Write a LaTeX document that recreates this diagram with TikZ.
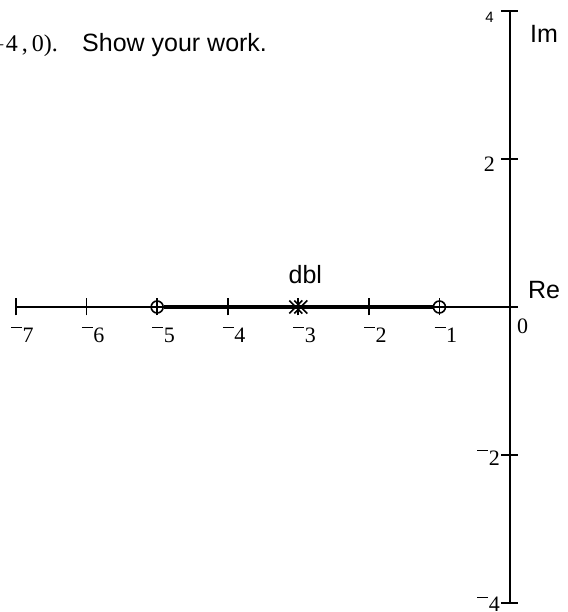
\documentclass[tikz,border=0pt]{standalone}
\usepackage{fontspec}
\setmainfont{Liberation Serif}
\setsansfont{Liberation Sans}
\newcommand{\hm}{\raisebox{13.6pt}{\rule{11pt}{1.1pt}}\kern0.5pt}
\begin{document}
\begin{tikzpicture}[x=70.57pt,y=74pt,
  axis/.style={line width=1.5pt},
  tickmark/.style={line width=1.6pt},
  locus/.style={line width=3.8pt},
  zeromark/.style={circle,draw,line width=1.6pt,minimum size=12pt,inner sep=0pt},
  polemark/.style={line width=1.6pt},
  ticklab/.style={font=\fontsize{22}{26}\selectfont,inner sep=0pt},
  lab/.style={font=\sffamily\fontsize{25}{29}\selectfont,inner sep=0pt}]
\useasboundingbox (-7.2268,-4.1216) rectangle (0.8077,4.1486);
\clip (-7.2268,-4.1216) rectangle (0.8077,4.1486);
% axes
\coordinate (xl) at (-7,0);
\coordinate (xr) at ([xshift=8pt]0,0);
\coordinate (yb) at (0,-4);
\coordinate (yt) at (0,4);
\draw[axis] (xl) -- (xr);
\draw[axis] (yb) -- (yt);
% horizontal ticks and labels
\foreach \i in {-7,...,-1}{
  \pgfmathtruncatemacro\k{-\i}
  \draw[tickmark] ([yshift=-8.5pt]\i,0) -- ([yshift=8.5pt]\i,0);
  \node[ticklab,anchor=base west] (hx\k) at ([xshift=-5pt,yshift=-35pt]\i,0) {\hm\k};
}
\node[ticklab,anchor=base west] (h0) at ([xshift=7pt,yshift=-26pt]0,0) {0};
% vertical ticks and labels
\foreach \j in {-4,-2,2,4}{
  \draw[tickmark] ([xshift=-8.5pt]0,\j) -- ([xshift=8.5pt]0,\j);
}
\node[ticklab,anchor=base east] (v2) at ([xshift=-15pt,yshift=-13pt]0,2) {2};
\node[ticklab,anchor=base east] (vm2) at ([xshift=-10pt,yshift=-10pt]0,-2) {\hm2};
\node[ticklab,anchor=base east] (vm4) at ([xshift=-10pt,yshift=-8.5pt]0,-4) {\hm4};
\node[inner sep=0pt,anchor=base east,font=\sffamily\fontsize{15}{17}\selectfont] (v4) at ([xshift=-16pt,yshift=-12pt]0,4) {4};
% root locus
\node[zeromark] (z5) at (-5,0) {};
\node[zeromark] (z1) at (-1,0) {};
\draw[locus] (z5) -- (z1);
\coordinate (p3) at (-3,0);
\foreach \d in {-2.5pt,2.5pt}{
  \draw[polemark] ([xshift=\d-6.5pt,yshift=-6.5pt]p3) -- ([xshift=\d+6.5pt,yshift=6.5pt]p3);
  \draw[polemark] ([xshift=\d-6.5pt,yshift=6.5pt]p3) -- ([xshift=\d+6.5pt,yshift=-6.5pt]p3);
}
% labels
\node[lab,anchor=base] (dbl) at ([xshift=7pt,yshift=23pt]p3) {dbl};
\node[lab,anchor=base west] (re) at ([xshift=18pt,yshift=8pt]0,0) {Re};
\node[lab,anchor=base west] (im) at ([xshift=20pt,yshift=-32pt]0,4) {Im};
\node[lab,anchor=base west] (show) at (-6.065,3.446) {Show your work.};
\node[ticklab,font=\fontsize{24}{28}\selectfont,anchor=base east] (pt) at ([xshift=-24pt]show.base west) {(\(-\)4\,,\,0).};
\end{tikzpicture}
\end{document}
